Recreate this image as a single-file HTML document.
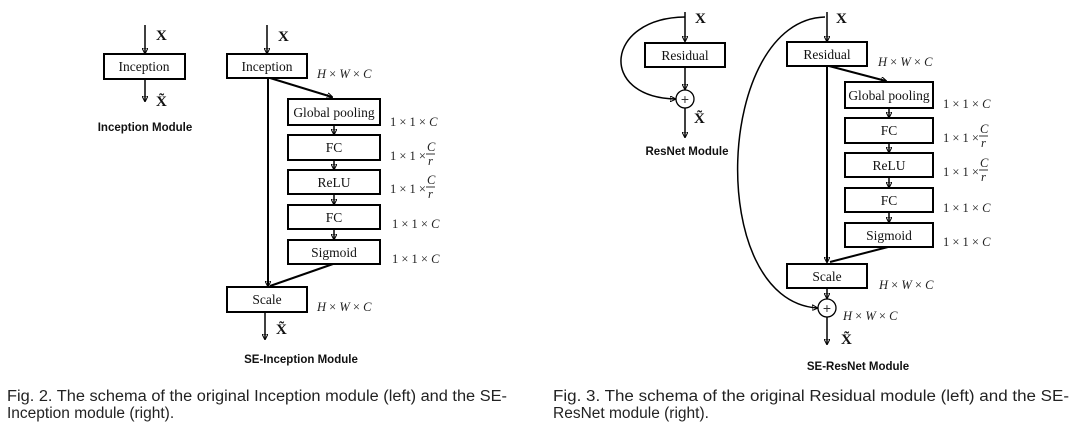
<!DOCTYPE html>
<html><head><meta charset="utf-8"><style>
html,body{margin:0;padding:0;background:#fff}
svg{display:block}
.b{fill:#fff;stroke:#000;stroke-width:2}
.t{font-family:"Liberation Serif",serif;font-size:13.5px;fill:#111;text-anchor:middle}
.m{font-family:"Liberation Serif",serif;font-size:12.5px;fill:#222}
.m i{font-style:italic}
.x{font-family:"Liberation Serif",serif;font-size:15px;font-weight:bold;fill:#111}
.h{font-family:"Liberation Sans",sans-serif;font-size:11.5px;font-weight:bold;fill:#111;text-anchor:middle}
.c{font-family:"Liberation Sans",sans-serif;font-size:15.5px;fill:#222}
line,path{stroke:#000;fill:none}
</style></head><body>
<svg width="1080" height="429" viewBox="0 0 1080 429" xmlns="http://www.w3.org/2000/svg">
<defs><marker id="a" markerWidth="6" markerHeight="6" refX="5" refY="3" orient="auto" markerUnits="userSpaceOnUse"><path d="M0,0 L6,3 L0,6 z" fill="#000" stroke="none"/></marker></defs>

<!-- Inception module -->
<line x1="145" y1="25" x2="145" y2="53" stroke-width="1.5" marker-end="url(#a)"/>
<text class="x" x="156" y="40">X</text>
<rect class="b" x="104" y="54" width="81" height="25"/>
<text class="t" x="144" y="71">Inception</text>
<line x1="145" y1="79" x2="145" y2="101" stroke-width="1.5" marker-end="url(#a)"/>
<text class="x" x="156" y="106">X̃</text>
<text class="h" x="145" y="131">Inception Module</text>

<!-- SE-Inception -->
<line x1="267" y1="25" x2="267" y2="53" stroke-width="1.5" marker-end="url(#a)"/>
<text class="x" x="278" y="41">X</text>
<rect class="b" x="227" y="54" width="80" height="24"/>
<text class="t" x="267" y="71">Inception</text>
<text class="m" x="317" y="78"><tspan font-style="italic">H</tspan> × <tspan font-style="italic">W</tspan> × <tspan font-style="italic">C</tspan></text>
<line x1="268" y1="78" x2="268" y2="286" stroke-width="2" marker-end="url(#a)"/>
<line x1="270" y1="78" x2="332" y2="97" stroke-width="2" marker-end="url(#a)"/>
<rect class="b" x="288" y="99" width="92" height="26"/>
<text class="t" x="334" y="117">Global pooling</text>
<rect class="b" x="288" y="135" width="92" height="25"/>
<text class="t" x="334" y="152">FC</text>
<rect class="b" x="288" y="170" width="92" height="24"/>
<text class="t" x="334" y="187">ReLU</text>
<rect class="b" x="288" y="205" width="92" height="24"/>
<text class="t" x="334" y="222">FC</text>
<rect class="b" x="288" y="240" width="92" height="24"/>
<text class="t" x="334" y="257">Sigmoid</text>
<line x1="334" y1="125" x2="334" y2="134" stroke-width="1.5" marker-end="url(#a)"/>
<line x1="334" y1="160" x2="334" y2="169" stroke-width="1.5" marker-end="url(#a)"/>
<line x1="334" y1="194" x2="334" y2="204" stroke-width="1.5" marker-end="url(#a)"/>
<line x1="334" y1="229" x2="334" y2="239" stroke-width="1.5" marker-end="url(#a)"/>
<line x1="333" y1="264" x2="270" y2="286" stroke-width="2"/>
<text class="m" x="390" y="126">1 × 1 × <tspan font-style="italic">C</tspan></text>
<text class="m" x="390" y="160">1 × 1 ×</text>
<text class="m" x="427" y="151" font-size="11" font-style="italic">C</text><line x1="426" y1="154" x2="435" y2="154" stroke-width="0.8"/><text class="m" x="428" y="165" font-size="11" font-style="italic">r</text>
<text class="m" x="390" y="193">1 × 1 ×</text>
<text class="m" x="427" y="184" font-size="11" font-style="italic">C</text><line x1="426" y1="187" x2="435" y2="187" stroke-width="0.8"/><text class="m" x="428" y="198" font-size="11" font-style="italic">r</text>
<text class="m" x="392" y="228">1 × 1 × <tspan font-style="italic">C</tspan></text>
<text class="m" x="392" y="263">1 × 1 × <tspan font-style="italic">C</tspan></text>
<rect class="b" x="227" y="287" width="80" height="25"/>
<text class="t" x="267" y="304">Scale</text>
<text class="m" x="317" y="311"><tspan font-style="italic">H</tspan> × <tspan font-style="italic">W</tspan> × <tspan font-style="italic">C</tspan></text>
<line x1="265" y1="312" x2="265" y2="339" stroke-width="1.5" marker-end="url(#a)"/>
<text class="x" x="276" y="334">X̃</text>
<text class="h" x="301" y="363">SE-Inception Module</text>

<!-- ResNet module -->
<line x1="685" y1="12" x2="685" y2="41" stroke-width="1.5" marker-end="url(#a)"/>
<text class="x" x="695" y="23">X</text>
<path d="M685,17 C605,18 598,97 675,99" stroke-width="1.5" marker-end="url(#a)"/>
<rect class="b" x="645" y="43" width="80" height="24"/>
<text class="t" x="685" y="60">Residual</text>
<line x1="685" y1="67" x2="685" y2="89" stroke-width="1.5" marker-end="url(#a)"/>
<circle cx="685" cy="99" r="9" fill="#fff" stroke="#000" stroke-width="1.3"/>
<text x="685" y="104" font-size="14" text-anchor="middle" fill="#333" font-family="Liberation Sans">+</text>
<line x1="685" y1="108" x2="685" y2="137" stroke-width="1.5" marker-end="url(#a)"/>
<text class="x" x="694" y="123">X̃</text>
<text class="h" x="687" y="155">ResNet Module</text>

<!-- SE-ResNet -->
<line x1="827" y1="12" x2="827" y2="41" stroke-width="1.5" marker-end="url(#a)"/>
<text class="x" x="836" y="23">X</text>
<path d="M825,17 C715,20 705,300 817,308" stroke-width="1.5" marker-end="url(#a)"/>
<rect class="b" x="787" y="42" width="80" height="24"/>
<text class="t" x="827" y="59">Residual</text>
<text class="m" x="878" y="66"><tspan font-style="italic">H</tspan> × <tspan font-style="italic">W</tspan> × <tspan font-style="italic">C</tspan></text>
<line x1="827" y1="66" x2="827" y2="262" stroke-width="2" marker-end="url(#a)"/>
<line x1="829" y1="66" x2="886" y2="81" stroke-width="2" marker-end="url(#a)"/>
<rect class="b" x="845" y="82" width="88" height="26"/>
<text class="t" x="889" y="100">Global pooling</text>
<rect class="b" x="845" y="118" width="88" height="25"/>
<text class="t" x="889" y="135">FC</text>
<rect class="b" x="845" y="153" width="88" height="24"/>
<text class="t" x="889" y="170">ReLU</text>
<rect class="b" x="845" y="188" width="88" height="24"/>
<text class="t" x="889" y="205">FC</text>
<rect class="b" x="845" y="223" width="88" height="24"/>
<text class="t" x="889" y="240">Sigmoid</text>
<line x1="889" y1="108" x2="889" y2="117" stroke-width="1.5" marker-end="url(#a)"/>
<line x1="889" y1="143" x2="889" y2="152" stroke-width="1.5" marker-end="url(#a)"/>
<line x1="889" y1="177" x2="889" y2="187" stroke-width="1.5" marker-end="url(#a)"/>
<line x1="889" y1="212" x2="889" y2="222" stroke-width="1.5" marker-end="url(#a)"/>
<line x1="888" y1="247" x2="830" y2="262" stroke-width="2"/>
<text class="m" x="943" y="108">1 × 1 × <tspan font-style="italic">C</tspan></text>
<text class="m" x="943" y="142">1 × 1 ×</text>
<text class="m" x="980" y="133" font-size="11" font-style="italic">C</text><line x1="979" y1="136" x2="988" y2="136" stroke-width="0.8"/><text class="m" x="981" y="147" font-size="11" font-style="italic">r</text>
<text class="m" x="943" y="176">1 × 1 ×</text>
<text class="m" x="980" y="167" font-size="11" font-style="italic">C</text><line x1="979" y1="170" x2="988" y2="170" stroke-width="0.8"/><text class="m" x="981" y="181" font-size="11" font-style="italic">r</text>
<text class="m" x="943" y="212">1 × 1 × <tspan font-style="italic">C</tspan></text>
<text class="m" x="943" y="246">1 × 1 × <tspan font-style="italic">C</tspan></text>
<rect class="b" x="787" y="264" width="80" height="24"/>
<text class="t" x="827" y="281">Scale</text>
<text class="m" x="879" y="289"><tspan font-style="italic">H</tspan> × <tspan font-style="italic">W</tspan> × <tspan font-style="italic">C</tspan></text>
<line x1="827" y1="288" x2="827" y2="298" stroke-width="1.5" marker-end="url(#a)"/>
<circle cx="827" cy="308" r="9" fill="#fff" stroke="#000" stroke-width="1.3"/>
<text x="827" y="313" font-size="14" text-anchor="middle" fill="#333" font-family="Liberation Sans">+</text>
<text class="m" x="843" y="320"><tspan font-style="italic">H</tspan> × <tspan font-style="italic">W</tspan> × <tspan font-style="italic">C</tspan></text>
<line x1="827" y1="317" x2="827" y2="344" stroke-width="1.5" marker-end="url(#a)"/>
<text class="x" x="841" y="344">X̃</text>
<text class="h" x="858" y="370">SE-ResNet Module</text>

<!-- captions -->
<text class="c" x="7" y="401" textLength="500" lengthAdjust="spacingAndGlyphs">Fig. 2. The schema of the original Inception module (left) and the SE-</text>
<text class="c" x="7" y="418">Inception module (right).</text>
<text class="c" x="553" y="401" textLength="516" lengthAdjust="spacingAndGlyphs">Fig. 3. The schema of the original Residual module (left) and the SE-</text>
<text class="c" x="553" y="418">ResNet module (right).</text>
</svg>
</body></html>
